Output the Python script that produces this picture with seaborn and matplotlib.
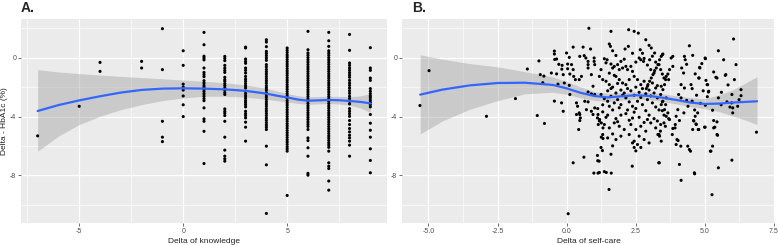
import numpy as np
import pandas as pd
import matplotlib
matplotlib.use("Agg")
import matplotlib.pyplot as plt
from matplotlib.ticker import MultipleLocator, FormatStrFormatter
import seaborn as sns

# ================= 样式 =================
sns.set_style("darkgrid", {"axes.facecolor": "#EBEBEB", "grid.color": "white"})
plt.rcParams['font.family'] = ['Liberation Sans', 'DejaVu Sans']
plt.rcParams['axes.unicode_minus'] = False

# ================= A: Delta of knowledge =================
knowledge_levels = [-7, -5, -4, -2, -1, 0, 1, 2, 3, 4, 5, 6, 7, 8, 9]

y_k_m7 = [-5.31]
y_k_m5 = [-3.30]
y_k_m4 = [-0.32, -0.93]
y_k_m2 = [-0.25, -0.70]
y_k_m1 = [1.97, -0.81, -4.32, -5.40, -5.70]
y_k_0 = [0.47, -0.52, -1.80, -2.00, -2.20, -2.60, -3.20, -4.00]
y_k_1 = [1.72, 0.88, 0.10, -0.02, -0.15, -0.70, -1.00, -1.15, -1.29, -1.56, -1.72, -1.88,
         -2.00, -2.17, -2.30, -2.46, -2.62, -2.78, -2.92, -3.41, -4.16, -4.32, -5.00, -7.19]
y_k_2 = [0.09, -0.05, -0.20, -0.52, -0.70, -0.86, -1.00, -1.33, -1.49, -1.60, -1.76, -1.90,
         -2.06, -2.21, -2.37, -2.50, -3.48, -3.64, -3.77, -3.93, -4.32, -5.40, -6.28, -6.69,
         -6.87, -7.03]
y_k_3 = [0.72, 0.66, -0.09, -0.25, -0.38, -0.70, -0.86, -1.04, -1.27, -1.45, -1.60, -1.76,
         -1.92, -2.06, -2.28, -2.44, -2.60, -2.76, -2.92, -3.05, -3.19, -3.34, -3.64, -3.80,
         -3.93, -4.09, -4.38, -4.72, -5.67]
y_k_4 = [1.22, 1.06, 0.75, 0.43, 0.29, 0.14, -0.02, -0.18, -0.47, -0.62, -0.80, -0.95,
         -1.10, -1.27, -1.42, -1.57, -1.73, -1.90, -2.05, -2.20, -2.37, -2.52, -2.67, -2.84,
         -3.00, -3.15, -3.30, -3.47, -3.62, -3.78, -3.93, -4.10, -4.25, -4.41, -4.57, -4.72,
         -4.88, -6.01, -7.28, -10.58]
y_k_5 = [0.66, 0.50, 0.35, 0.18, 0.04, -0.12, -0.27, -0.43, -0.58, -0.74, -0.90, -1.05,
         -1.20, -1.36, -1.52, -1.67, -1.83, -1.98, -2.14, -2.30, -2.45, -2.60, -2.76, -2.92,
         -3.07, -3.22, -3.38, -3.54, -3.70, -3.85, -4.00, -4.16, -4.32, -4.48, -4.63, -4.79,
         -4.95, -5.10, -5.26, -5.42, -5.58, -5.73, -5.89, -6.05, -6.20, -6.35, -9.36]
y_k_6 = [1.79, 0.54, 0.32, 0.17, 0.01, -0.15, -0.30, -0.46, -0.62, -0.77, -0.93, -1.08,
         -1.24, -1.40, -1.55, -1.71, -1.86, -2.02, -2.18, -2.33, -2.49, -2.64, -2.80, -2.96,
         -3.11, -3.27, -3.42, -3.58, -3.74, -3.89, -4.05, -4.20, -4.36, -4.52, -4.67, -4.88,
         -5.45, -5.63, -6.12, -6.69, -7.86, -7.98]
y_k_7 = [1.72, 1.15, 0.77, 0.47, 0.31, 0.16, 0.00, -0.15, -0.31, -0.46, -0.62, -0.78,
         -0.93, -1.09, -1.25, -1.40, -1.56, -1.72, -1.87, -2.03, -2.18, -2.34, -2.50, -2.65,
         -2.81, -2.96, -3.12, -3.28, -3.43, -3.59, -3.75, -3.90, -4.06, -4.21, -4.37, -4.53,
         -4.68, -4.84, -5.00, -5.15, -5.31, -5.46, -5.62, -5.78, -5.93, -6.09, -6.35, -7.14,
         -7.37, -7.53, -8.38, -9.00]
y_k_8 = [1.58, 0.50, -0.36, -0.52, -0.70, -0.86, -1.02, -1.18, -1.33, -1.54, -1.72, -1.88,
         -2.06, -2.24, -2.42, -2.62, -2.78, -2.96, -3.14, -3.46, -3.64, -3.80, -3.98, -4.27,
         -4.54, -4.81, -5.04, -5.27, -5.45, -5.67, -5.94, -6.69]
y_k_9 = [0.68, -0.70, -0.86, -1.38, -1.54, -2.10, -2.28, -2.44, -2.60, -2.73, -2.89, -3.03,
         -3.19, -3.34, -3.86, -4.45, -4.93, -5.40, -6.19, -6.98, -7.82]

knowledge_y_cols = [y_k_m7, y_k_m5, y_k_m4, y_k_m2, y_k_m1, y_k_0, y_k_1, y_k_2, y_k_3,
                    y_k_4, y_k_5, y_k_6, y_k_7, y_k_8, y_k_9]

# 平滑曲线 (loess) 与置信带
smooth_x_a = [-7, -6, -5, -4, -3, -2, -1, 0, 1, 2, 3, 4, 4.5, 5, 5.5, 6, 6.5, 7, 7.5, 8, 8.5, 9]
smooth_y_a = [-3.62, -3.22, -2.90, -2.62, -2.37, -2.19, -2.10, -2.08, -2.10, -2.15, -2.25, -2.44,
              -2.58, -2.70, -2.84, -2.92, -2.90, -2.87, -2.89, -2.94, -3.00, -3.10]
upper_a = [-0.81, -0.97, -1.08, -1.18, -1.27, -1.35, -1.43, -1.52, -1.60, -1.70, -1.85, -2.08,
           -2.26, -2.43, -2.58, -2.66, -2.64, -2.62, -2.63, -2.65, -2.60, -2.44]
lower_a = [-6.35, -5.33, -4.54, -3.98, -3.53, -3.19, -2.92, -2.73, -2.62, -2.62, -2.68, -2.82,
           -2.92, -3.00, -3.10, -3.17, -3.14, -3.11, -3.15, -3.23, -3.40, -3.72]

# ================= B: Delta of self-care =================
self_care = [
    -5.31, -4.98, -2.90, -1.85, -1.42, -1.00, -0.95, -0.82, -0.86, -1.06,
    -0.80, -0.44, -0.44, -0.43, -0.36, -0.28, -0.55, -0.36, -0.16, -0.17,
    -0.12, -0.08, -0.31, -0.44, -0.18, -0.12, 0.00, 0.10, 0.04, 0.04,
    0.18, 0.24, 0.24, 0.12, 0.10, 0.12, 0.26, 0.32, 0.36, 0.40,
    0.36, 0.46, 0.48, 0.50, 0.48, 0.44, 0.24, 0.06, 0.48, 0.54,
    0.46, 0.60, 0.64, 0.70, 0.78, 0.78, 0.78, 0.87, 0.81, 0.90,
    1.00, 1.00, 1.02, 0.66, 0.78, 0.78, 0.90, 0.96, 1.02, 0.72,
    0.90, 0.96, 1.12, 1.15, 0.63, 0.99, 1.14, 1.12, 1.18, 1.30,
    1.02, 1.14, 1.20, 1.26, 1.32, 1.26, 1.32, 1.44, 1.62, 1.54,
    1.61, 1.55, 1.59, 1.67, 2.25, 2.45, 2.60, 2.24, 2.12, 2.67,
    2.87, 2.99, 1.37, 1.47, 1.25, 1.61, 1.73, 1.67, 1.85, 1.91,
    2.03, 2.15, 2.21, 2.33, 2.39, 2.63, 2.69, 2.79, 2.93, 3.05,
    3.17, 3.35, 3.41, 3.47, 3.53, 3.59, 1.19, 1.31, 1.43, 1.55,
    1.67, 1.79, 1.91, 2.03, 2.15, 2.27, 2.45, 2.57, 2.69, 2.81,
    2.93, 3.11, 3.23, 1.25, 1.37, 1.49, 1.61, 1.73, 1.85, 1.97,
    2.15, 2.27, 2.39, 2.57, 2.75, 2.93, 3.11, 3.29, 3.47, 3.59,
    1.13, 1.31, 1.49, 1.67, 1.79, 1.97, 2.15, 2.27, 2.45, 2.63,
    2.81, 2.99, 3.17, 3.35, 3.53, 1.19, 1.37, 1.55, 1.73, 1.91,
    2.09, 2.33, 2.51, 2.69, 2.87, 3.05, 3.23, 3.41, 1.31, 1.49,
    1.67, 1.79, 1.97, 2.27, 2.45, 2.63, 2.81, 2.99, 3.35, 1.25,
    1.61, 1.67, 2.39, 2.45, 2.51, 2.57, 2.69, 1.13, 1.19, 1.37,
    2.38, 3.36, 1.43, 1.55, 1.73, 1.85, 1.97, 2.09, 2.21, 2.33,
    2.51, 2.63, 2.75, 2.87, 2.99, 3.17, 3.29, 1.49, 1.61, 1.79,
    2.03, 2.45, 2.69, 3.05, 3.41, 1.31, 1.55, 1.91, 2.21, 2.51,
    2.87, 3.23, 3.47, 1.43, 1.85, 2.39, 2.93, 3.29, 1.97, 2.09,
    2.51, 2.81, 3.11, 3.23, 1.79, 2.39, 2.75, 3.47, 6.05, 6.14,
    6.08, 6.32, 6.32, 5.98, 6.02, 6.02, 6.88, 5.99, 5.77, 5.69,
    5.50, 5.33, 5.41, 5.50, 5.81, 5.50, 5.27, 5.29, 5.23, 5.29,
    5.37, 5.47, 5.33, 5.02, 5.05, 5.11, 5.14, 5.03, 5.02, 4.82,
    4.80, 4.71, 4.66, 4.60, 4.69, 4.57, 4.77, 4.63, 4.57, 4.45,
    4.51, 4.55, 4.39, 4.45, 4.15, 4.09, 4.27, 4.30, 4.17, 4.24,
    4.15, 4.27, 4.06, 4.15, 4.03, 3.97, 3.93, 4.00, 3.97, 4.09,
    3.85, 3.79, 3.85, 3.73, 3.67, 3.61, 3.70, 3.55, 3.43, 3.49,
    3.61, 3.49, 3.43, 3.55, 3.67, 3.61, 3.73, 3.53, 3.58, 3.40,
    3.37, 3.43, 3.31, 3.34, 3.49, 3.43, 3.37, 3.31, 3.25, 3.19,
    3.13, 3.07, 3.01, 2.95, 2.89, 3.07, 3.19, 3.01, 5.99, 5.75,
    5.45, 5.09, 5.15, 5.45, 5.45, 5.33, 5.00, 5.21, 5.03, 4.83,
    4.79, 4.64, 4.49, 4.14, 4.04, 3.83, 3.85, 3.94, 3.70, 4.61,
    4.70, 4.79, 4.75, 4.64, 4.66, 5.10, 4.35, 4.40, 4.85, 4.25,
    5.61, 5.85, 5.92, 6.20, 6.25, 5.60, 4.95, 4.55, 4.90, 4.35,
]
hba1c_b = [
    -3.25, -0.88, -3.98, -2.78, -0.77, -0.22, -1.15, -1.25, -1.70, -3.93,
    -4.47, 0.45, 0.25, -0.12, -0.09, -0.45, -1.04, -1.10, -0.52, -0.78,
    -1.15, -1.72, -1.80, -2.95, -3.07, -3.64, 0.32, 0.02, -0.43, -0.75,
    -0.47, -0.81, 0.72, -1.11, -1.88, -2.50, -1.27, -1.49, -3.07, -3.30,
    -3.86, -3.75, -3.86, -4.09, -4.27, -4.88, -7.14, -10.60, 0.09, -1.27,
    -1.49, 0.72, 0.14, -0.02, -0.25, -0.47, -0.70, 0.59, 2.00, -1.15,
    -0.02, -0.25, -0.47, -2.96, -3.00, -2.33, -2.46, -1.94, -2.50, -3.53,
    -3.64, -3.86, -4.09, -4.54, -6.76, -7.84, -7.84, -6.64, -7.03, -6.31,
    -3.41, -3.86, -4.20, -4.43, -4.77, -5.40, -5.49, -7.80, -7.84, -8.95,
    1.79, 0.93, 0.77, 0.47, 1.90, 1.79, 1.67, 0.77, 0.59, 0.54,
    1.22, 0.84, -0.07, -0.14, -0.81, -0.43, -0.59, -0.70, -0.47, -0.81,
    -0.70, -0.59, -0.81, -0.59, -0.93, -0.02, -0.14, -0.25, -0.50, -0.81,
    -1.04, -0.47, -0.81, -1.11, -1.38, -1.49, -1.27, -1.49, -1.60, -1.83,
    -2.00, -1.27, -1.49, -1.72, -1.83, -1.49, -1.27, -1.49, -1.83, -1.60,
    -1.94, -1.72, -2.06, -2.50, -2.78, -2.96, -2.62, -3.07, -2.85, -3.19,
    -2.73, -3.00, -3.30, -2.96, -3.19, -2.85, -3.07, -2.73, -3.00, -3.19,
    -3.46, -3.68, -3.90, -3.55, -4.14, -3.90, -3.80, -4.25, -3.70, -4.05,
    -4.40, -3.90, -4.14, -3.55, -3.90, -4.30, -4.54, -4.77, -4.43, -4.66,
    -4.88, -4.54, -4.88, -4.66, -4.99, -4.43, -4.77, -4.54, -5.22, -5.45,
    -5.18, -5.56, -5.33, -5.22, -5.67, -5.33, -5.56, -5.79, -5.22, -6.10,
    -6.56, -5.99, -5.79, -6.10, -6.33, -5.90, -6.10, -7.00, -7.80, -7.74,
    -7.37, -7.14, -0.35, -1.05, -1.20, -1.75, -2.20, -2.40, -2.10, -2.25,
    -2.00, -2.35, -2.10, -2.45, -2.20, -2.40, -1.90, -2.25, -2.10, -2.40,
    -2.55, -2.55, -2.70, -2.60, -2.50, -3.20, -3.30, -3.40, -3.55, -3.45,
    -3.60, -3.35, -3.60, -4.05, -4.35, -4.10, -4.20, -4.30, -0.25, -0.10,
    -0.30, -0.05, 0.10, -0.30, 0.15, 0.30, 0.30, 0.20, 1.27, -0.47,
    -1.49, -2.17, -2.58, -3.07, -3.41, -3.75, -5.06, -6.96, -1.15, -0.14,
    0.47, -0.97, -1.33, -2.73, -3.00, -7.48, -9.31, -6.01, -6.35, -3.57,
    -4.72, -5.27, -4.27, -0.02, -1.54, -1.83, -2.33, -3.23, -4.72, -0.66,
    -1.38, -2.55, -3.98, -4.27, -4.50, -4.88, -4.88, -7.82, 0.16, 0.81,
    -1.83, -2.10, -6.01, -6.24, -8.33, -7.25, 0.09, -0.14, -0.70, -1.04,
    -1.83, -2.06, -2.50, -2.73, -3.53, -3.98, -4.77, -5.56, -5.90, -4.27,
    0.09, -0.02, -0.59, -0.81, -1.11, -1.27, -1.49, -1.83, -1.94, -2.17,
    -2.73, -2.96, -3.19, -3.53, -3.75, -3.98, -4.20, -4.43, -4.66, -4.99,
    -5.33, -5.67, -5.22, -7.14, 0.25, 0.09, -0.14, -0.47, -0.70, -0.88,
    -1.15, -1.38, -1.60, -1.83, -2.10, 0.66, 0.32, -0.14, -2.50, -1.20,
    -1.38, -1.83, -2.28, -4.36, -5.22, -4.77, -4.72, -6.35, -0.07, -0.70,
    -1.38, -7.89, -6.35, -6.01, -5.63, -5.22, -4.81, -4.54, -4.14, -4.30,
    -4.54, -4.88, -3.75, -3.55, -1.10, -2.65, -2.90, -3.30, -3.10, -3.75,
    -2.35, -1.85, -3.35, -3.30, -2.85, -3.20, -2.25, -2.95, -0.40, -0.45,
]

smooth_x_b = [-5.3, -4.5, -3.5, -2.5, -1.5, -0.5, 0, 0.5, 1, 1.5, 2, 2.5, 3, 3.5, 4, 4.5,
              5, 5.5, 6, 6.5, 6.9]
smooth_y_b = [-2.51, -2.17, -1.88, -1.72, -1.70, -1.85, -2.08, -2.38, -2.60, -2.70, -2.62,
              -2.55, -2.60, -2.72, -2.88, -3.05, -3.14, -3.12, -3.05, -3.00, -2.96]
upper_b = [0.20, -0.10, -0.40, -0.62, -0.95, -1.30, -1.62, -1.98, -2.30, -2.42, -2.38, -2.30,
           -2.35, -2.45, -2.60, -2.72, -2.78, -2.55, -2.20, -1.70, -1.29]
lower_b = [-5.18, -4.30, -3.50, -2.92, -2.45, -2.35, -2.48, -2.72, -2.90, -2.98, -2.88, -2.80,
           -2.85, -2.98, -3.15, -3.33, -3.46, -3.65, -3.95, -4.25, -4.54]

# ================= 数据整理 =================
df_a = pd.DataFrame({
    'knowledge': np.concatenate([[k] * len(v) for k, v in zip(knowledge_levels, knowledge_y_cols)]),
    'hba1c': np.concatenate(knowledge_y_cols),
})
n_b = min(len(self_care), len(hba1c_b))
df_b = pd.DataFrame({'selfcare': self_care[:n_b], 'hba1c': hba1c_b[:n_b]})

# ================= 绘图 =================
fig = plt.figure(figsize=(7.78, 2.45), dpi=100)
ax_a = fig.add_axes([0.0270, 0.0898, 0.4704, 0.8327])
ax_b = fig.add_axes([0.5167, 0.0898, 0.4794, 0.8327])

LINE_BLUE = '#3366FF'
YLIM = (-11.23, 2.63)


def draw_panel(ax, data, xcol, sx, sy, lo, hi):
    ax.fill_between(sx, lo, hi, color='#999999', alpha=0.4, lw=0, zorder=2)
    sns.scatterplot(data=data, x=xcol, y='hba1c', ax=ax, color='black', s=5,
                    edgecolor='none', linewidth=0, zorder=3)
    sns.lineplot(x=sx, y=sy, ax=ax, color=LINE_BLUE, lw=1.6, zorder=4)
    ax.set_ylim(*YLIM)
    ax.yaxis.set_major_locator(MultipleLocator(4))
    ax.yaxis.set_minor_locator(MultipleLocator(2))
    ax.grid(which='major', color='white', lw=0.9)
    ax.grid(which='minor', color='white', lw=0.45)
    ax.tick_params(which='major', length=2, width=0.5, color='#333333',
                   labelsize=5, labelcolor='#4D4D4D', pad=1.5,
                   bottom=True, left=True)
    ax.tick_params(which='minor', length=0)
    for sp in ax.spines.values():
        sp.set_visible(False)


draw_panel(ax_a, df_a, 'knowledge', smooth_x_a, smooth_y_a, lower_a, upper_a)
ax_a.set_xlim(-7.8, 9.8)
ax_a.xaxis.set_major_locator(MultipleLocator(5))
ax_a.xaxis.set_minor_locator(MultipleLocator(2.5))
ax_a.set_xlabel('Delta of knowledge', fontsize=6, color='#222222', labelpad=2)
ax_a.set_ylabel('Delta - HbA1c (%)', fontsize=6, color='#222222', labelpad=1.5)

draw_panel(ax_b, df_b, 'selfcare', smooth_x_b, smooth_y_b, lower_b, upper_b)
ax_b.set_xlim(-5.96, 7.55)
ax_b.xaxis.set_major_locator(MultipleLocator(2.5))
ax_b.xaxis.set_minor_locator(MultipleLocator(1.25))
ax_b.xaxis.set_major_formatter(FormatStrFormatter('%.1f'))
ax_b.set_xlabel('Delta of self-care', fontsize=6, color='#222222', labelpad=2)
ax_b.set_ylabel('')

fig.text(0.026, 0.995, 'A.', fontsize=10, fontweight='bold', va='top', ha='left')
fig.text(0.530, 0.995, 'B.', fontsize=10, fontweight='bold', va='top', ha='left')

fig.savefig('out.png', dpi=100)
